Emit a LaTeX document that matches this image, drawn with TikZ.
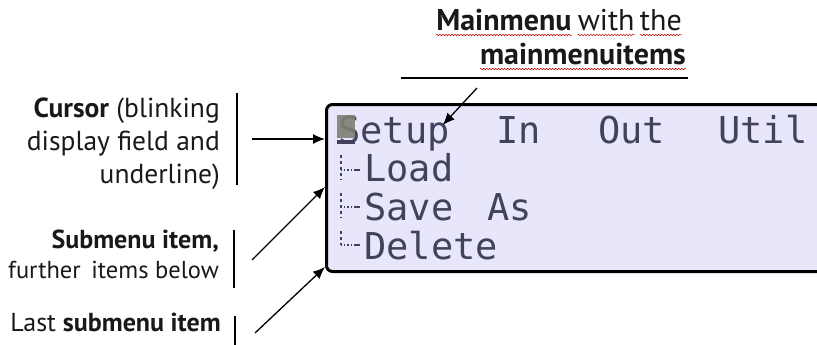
\documentclass[tikz,border=0pt]{standalone}
\usepackage{fontspec}
\setmainfont{PT Sans}
\newfontfamily\lcdfont{DejaVu Sans Mono}
\usepackage{tikz}
\usetikzlibrary{arrows.meta}
\usetikzlibrary{decorations.pathmorphing}
\usetikzlibrary{positioning}
\definecolor{lcdbg}{RGB}{232,230,250}
\definecolor{lcdtext}{RGB}{66,66,92}
\definecolor{labeltext}{RGB}{25,25,25}
\definecolor{cursorgray}{RGB}{128,126,118}

\begin{document}
\begin{tikzpicture}[x=1pt,y=-1pt,
	lbl/.style={font=\fontsize{26}{33}\selectfont,text=labeltext,inner sep=0pt},
	toplbl/.style={font=\fontsize{30}{35}\selectfont,text=labeltext,inner sep=0pt},
	lcd/.style={font=\lcdfont\fontsize{37}{37}\selectfont,text=lcdtext,inner sep=0pt,anchor=base west},
	pointer/.style={-{Latex[length=12pt,width=10pt]},line width=1.3pt},
	bar/.style={line width=1.3pt},
	squiggle/.style={red!75!black,line width=0.5pt,decorate,decoration={snake,amplitude=0.8pt,segment length=3pt}}]
	\useasboundingbox (0,0) rectangle (817,345);
	% display
	\node[draw,line width=3pt,rounded corners=6pt,fill=lcdbg,minimum width=520pt,minimum height=167pt,anchor=north west,inner sep=0pt] (display) at (325,103) {};
	\node[lcd] (setup) at (338,143) {Setup};
	\node[lcd] (in) at (496,143) {In};
	\node[lcd] (out) at (598,143) {Out};
	\node[lcd] (util) at (718,143) {Util};
	\node[lcd] (load) at (364,181) {Load};
	\node[lcd] (save) at (364,220) {Save};
	\node[lcd] (as) at (487,220) {As};
	\node[lcd] (delete) at (364,259) {Delete};
	% cursor block
	\fill[cursorgray,opacity=0.9] (337,115) rectangle (355,138);
	\fill[lcdtext] (337,140) rectangle (355,144);
	% tree lines
	\draw[lcdtext,dashed,line width=1.2pt] (341,155) -- (341,180);
	\draw[lcdtext,dotted,line width=1.2pt] (341,170) -- (353,170);
	\draw[lcdtext,line width=2pt] (354,170) -- (360,170);
	\draw[lcdtext,dashed,line width=1.2pt] (341,193) -- (341,218);
	\draw[lcdtext,dotted,line width=1.2pt] (341,207) -- (353,207);
	\draw[lcdtext,line width=2pt] (354,207) -- (360,207);
	\draw[lcdtext,dashed,line width=1.2pt] (341,231) -- (341,245);
	\draw[lcdtext,dotted,line width=1.2pt] (341,245) -- (353,245);
	\draw[lcdtext,line width=2pt] (354,245) -- (360,245);

	% main menu label
	\node[toplbl,anchor=base east] (mthe) at (682,31) {the};
	\node[toplbl,base left=5pt of mthe] (mwith) {with};
	\node[toplbl,base left=6pt of mwith,font=\fontsize{30}{35}\selectfont\bfseries] (mmain) {Mainmenu};
	\node[toplbl,anchor=base east,font=\fontsize{30}{35}\selectfont\bfseries] (mitems) at (686,65) {mainmenuitems};
	\draw[squiggle] ([yshift=-4pt]mmain.base west) -- ([yshift=-4pt]mmain.base east);
	\draw[squiggle] ([yshift=-4pt]mwith.base west) -- ([yshift=-4pt]mwith.base east);
	\draw[squiggle] ([yshift=-4pt]mthe.base west) -- ([yshift=-4pt]mthe.base east);
	\draw[squiggle] ([yshift=-4pt]mitems.base west) -- ([yshift=-4pt]mitems.base east);
	\coordinate (ruleleft) at (401,78);
	\coordinate (ruleright) at (688,78);
	\draw[line width=1.5pt] (ruleleft) -- (ruleright);
	\coordinate (mainfrom) at (477,88);
	\draw[pointer] (mainfrom) -- ([shift={(-7,-18)}]setup.base east);

	% cursor label
	\node[lbl,anchor=base east,align=right,font=\fontsize{27.5}{33}\selectfont] (cursorlbl) at (220,183) {\textbf{Cursor} (blinking\\display field and\\underline)};
	\coordinate (cursorbar) at (237,93);
	\draw[bar] (cursorbar) -- ++(0,92);
	\coordinate (cursorfrom) at (252,139);
	\draw[pointer] (cursorfrom) -- (cursorfrom -| display.west);

	% submenu label
	\node[lbl,anchor=base east,align=right,font=\fontsize{26}{30}\selectfont] (sublbl) at (219,278) {\textbf{Submenu item,}\\{\fontsize{24.5}{30}\selectfont further\hspace{4pt} items below}};
	\coordinate (subbar) at (234,230);
	\draw[bar] (subbar) -- ++(0,58);
	\coordinate (subfrom) at (252,260);
	\draw[pointer] (subfrom) -- (display.west |- 0,187);

	% last submenu label
	\node[lbl,anchor=base east] (lastlbl) at (221,331) {Last \textbf{submenu item}};
	\coordinate (lastbar) at (235,316);
	\draw[bar] (lastbar) -- ++(0,35);
	\coordinate (lastfrom) at (255,333);
	\draw[pointer] (lastfrom) -- (display.west |- 0,267);
\end{tikzpicture}
\end{document}
